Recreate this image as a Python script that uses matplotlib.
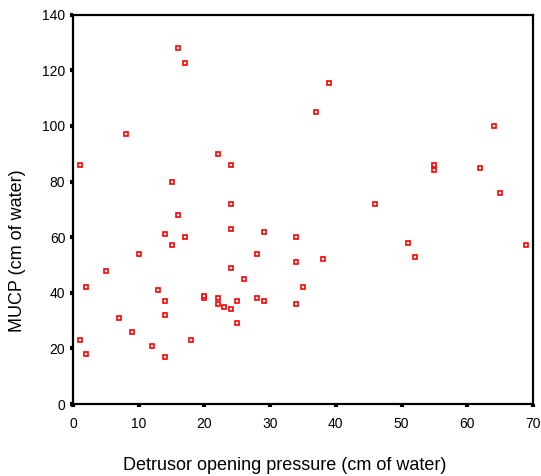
import matplotlib
matplotlib.use("Agg")
import matplotlib.pyplot as plt

plt.rcParams['font.family'] = ['Liberation Sans', 'DejaVu Sans']

# Detrusor opening pressure (cm of water)
dop = [16, 17, 8, 1, 22, 24, 15, 24, 16, 24, 14, 17, 29, 15, 10, 28, 5, 24, 26, 2,
       13, 20, 20, 22, 28, 14, 25, 29, 22, 23, 24, 7, 14, 25, 9, 1, 18, 12, 2, 14,
       39, 37, 64, 55, 55, 62, 65, 46, 34, 51, 69, 52, 34, 38, 35, 34]
# MUCP (cm of water)
mucp = [128, 122.5, 97, 86, 90, 86, 80, 72, 68, 63, 61, 60, 62, 57, 54, 54, 48, 49, 45, 42,
        41, 38, 38.8, 38, 38, 37, 37, 37, 36, 35, 34, 31, 32, 29, 26, 23, 23, 21, 18, 17,
        115.5, 105, 100, 86, 84, 85, 76, 72, 60, 58, 57, 53, 51, 52, 42, 36]

x_ticks = [0, 10, 20, 30, 40, 50, 60, 70]
y_ticks = [0, 20, 40, 60, 80, 100, 120, 140]

fig = plt.figure(figsize=(5.41, 4.76), dpi=100)
ax = fig.add_axes([73/541, 1 - 404/476, 460/541, (404 - 14.7)/476])

ax.plot(dop, mucp, linestyle='none', marker='s', markersize=3.4,
        markerfacecolor='white', markeredgecolor='#ff0000', markeredgewidth=1.2)

ax.set_xlim(0, 70)
ax.set_ylim(0, 140)
ax.set_xticks(x_ticks)
ax.set_yticks(y_ticks)
for s in ax.spines.values():
    s.set_linewidth(1.6)
    s.set_color('black')
ax.tick_params(direction='out', length=2.5, width=3, labelsize=10, colors='black')
ax.tick_params(axis='x', pad=7)
ax.tick_params(axis='y', pad=3)

fig.text(18/541, 1 - 251/476, 'MUCP (cm of water)', rotation=90, ha='center', va='center', fontsize=13)
fig.text(285/541, 1 - 465/476, 'Detrusor opening pressure (cm of water)', ha='center', va='center', fontsize=13)

fig.savefig('out.png', dpi=100)
